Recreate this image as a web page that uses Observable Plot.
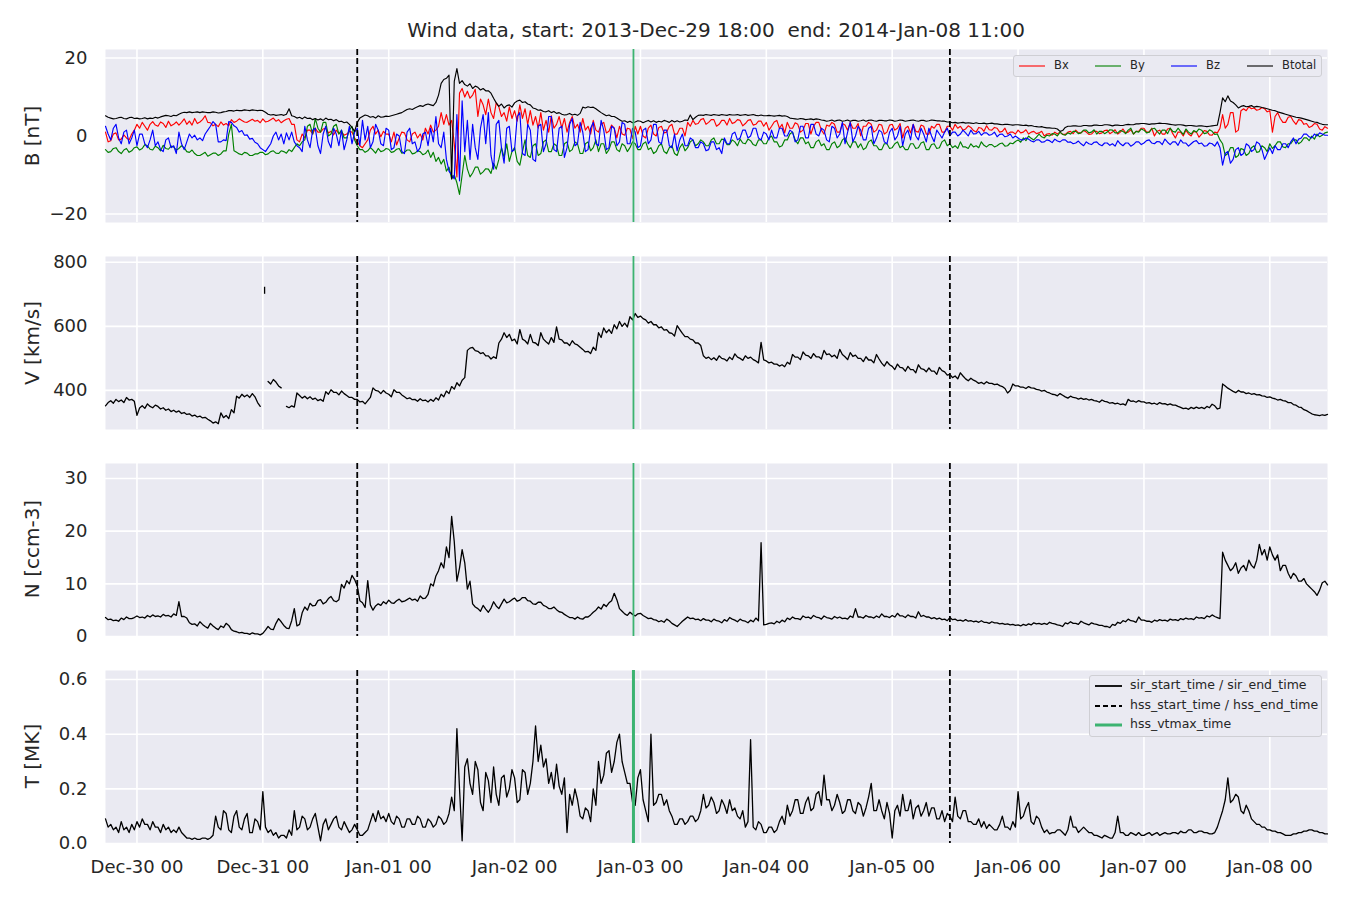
<!DOCTYPE html>
<html><head><meta charset="utf-8">
<script src="https://cdn.jsdelivr.net/npm/d3@7"></script>
<script src="https://cdn.jsdelivr.net/npm/@observablehq/plot@0.6"></script>
<style>
body{margin:0;background:#fff;}
#wrap{position:relative;width:1350px;height:900px;font-family:"DejaVu Sans",sans-serif;color:#262626;overflow:hidden;}
.panel{position:absolute;left:0;}
.ylab{position:absolute;left:32px;font-size:20px;white-space:nowrap;transform:translate(-50%,-50%) rotate(-90deg);}
#title{position:absolute;left:105px;width:1222px;top:18px;text-align:center;font-size:20px;white-space:pre;line-height:24px;}
.legend{position:absolute;background:#EAEAF2;border:1.3px solid #cfcfd4;border-radius:3px;box-sizing:border-box;}
.lg-item{position:absolute;white-space:nowrap;line-height:1;}
</style></head>
<body>
<div id="wrap">
  <div id="title">Wind data, start: 2013-Dec-29 18:00  end: 2014-Jan-08 11:00</div>
  <div class="panel" id="p1" style="top:39px"></div>
  <div class="panel" id="p2" style="top:246px"></div>
  <div class="panel" id="p3" style="top:453px"></div>
  <div class="panel" id="p4" style="top:660px"></div>
  <div class="ylab" style="top:136px">B [nT]</div>
  <div class="ylab" style="top:343px">V [km/s]</div>
  <div class="ylab" style="top:549px">N [ccm-3]</div>
  <div class="ylab" style="top:756px">T [MK]</div>
  <div class="legend" id="leg1" style="left:1013px;top:55px;width:309px;height:22px;"></div>
  <div class="legend" id="leg2" style="left:1089px;top:675px;width:233px;height:62px;"></div>
</div>
<script>
// ---- time frame: samples every 30 minutes, first sample at START ----
const START = "2013-12-29T18:00Z";
const END = "2014-01-08T11:00Z";
const STEP_MIN = 30;
const dayTicks = ["2013-12-30","2013-12-31","2014-01-01","2014-01-02","2014-01-03","2014-01-04","2014-01-05","2014-01-06","2014-01-07","2014-01-08"];
const hssTimes = ["2013-12-31T18:00Z", "2014-01-05T11:00Z"];
const vtmaxTimes = ["2014-01-02T22:40Z"];

// ---- magnetic field [nT] (one row per day) ----
const bx = [
  1.0,-1.5,-1.2,0.5,0.8,-1.0,-0.8,0.3,-0.5,-1.0,0.5,1.5,
  3.0,2.0,3.5,2.5,1.5,3.0,3.7,2.8,2.5,3.6,3.2,2.2,3.8,2.6,3.0,3.6,2.8,3.5,4.4,3.0,3.8,2.8,4.5,3.2,3.6,4.2,5.2,3.5,3.4,2.6,3.0,2.4,3.6,2.8,3.2,2.6,4.2,3.5,3.8,4.4,4.0,3.6,3.5,3.9,4.3,3.8,4.0,3.4,
  4.4,3.6,3.8,4.2,4.6,3.8,4.2,3.4,3.9,4.3,4.5,3.0,3.0,-1.0,-1.5,0.5,-0.5,1.5,1.5,0.5,2.0,1.0,1.0,1.8,2.0,0.8,1.2,0.3,1.5,0.6,1.0,0.2,0.5,1.2,1.0,-0.5,-1.5,-2.5,-3.0,-2.0,-1.0,1.5,2.5,0.5,1.5,-0.2,1.2,0.5,
  0.5,-1.5,1.0,-2.3,-0.5,1.0,0.8,-1.0,-1.5,0.5,1.0,-0.5,0.5,-1.0,2.0,0.5,2.8,1.0,1.5,2.5,6.0,3.0,5.5,2.8,4.0,-2.0,-10.5,11.0,12.2,10.0,11.5,9.7,10.5,12.0,5.0,9.5,8.0,5.5,9.5,6.0,4.5,8.5,7.5,5.0,6.0,3.8,7.5,4.5,
  6.5,3.8,8.0,4.5,7.0,3.0,6.5,2.8,5.0,2.0,6.0,1.5,4.0,1.0,5.2,2.0,3.0,5.0,2.0,4.5,1.0,3.5,5.0,2.0,3.0,1.0,4.5,1.5,2.5,0.5,4.0,1.5,1.0,3.0,3.5,0.8,1.2,2.8,2.0,-0.5,2.5,0.5,0.2,2.0,1.8,-0.6,2.5,0.5,
  2.5,0.0,-0.5,2.0,2.8,0.5,0.0,2.2,2.5,0.8,1.0,2.5,3.0,0.5,0.5,2.0,2.0,0.0,3.5,2.5,4.0,3.0,3.2,4.2,4.5,3.0,3.5,4.2,4.2,2.5,3.0,4.0,4.0,2.8,4.5,3.2,3.5,4.2,4.0,2.6,3.2,4.0,4.2,2.8,3.0,3.8,3.8,2.5,
  3.5,1.5,2.5,3.6,4.0,2.0,3.0,0.8,3.5,2.0,2.0,3.4,3.0,1.0,1.5,3.2,3.2,0.5,2.5,3.5,3.5,1.5,0.5,2.8,2.5,3.5,3.0,1.0,1.0,3.2,2.8,1.5,3.5,2.0,2.0,3.2,0.0,2.5,2.5,3.5,3.0,1.0,1.5,3.0,2.8,0.5,1.0,2.8,
  3.0,1.5,2.0,3.2,-0.5,2.0,2.5,0.8,3.0,1.2,1.0,2.8,2.5,0.5,0.5,2.5,2.0,3.0,3.0,1.0,1.0,2.5,2.5,1.5,3.0,2.0,2.5,1.5,1.8,2.6,2.2,1.4,1.0,2.2,2.0,1.2,2.6,1.6,1.5,2.2,2.0,1.0,1.2,2.0,0.5,1.0,1.0,0.5,
  1.5,0.8,1.0,1.6,0.5,1.0,1.2,0.6,0.8,1.2,0.0,0.5,0.6,0.2,1.0,0.5,1.0,0.4,0.4,1.0,1.2,0.6,1.5,0.8,0.8,1.4,1.0,0.4,0.5,1.2,1.2,0.6,0.8,1.4,1.5,0.6,1.0,1.6,0.5,1.0,1.8,0.8,1.0,1.6,0.5,1.2,1.2,2.0,
  2.0,1.0,1.0,2.0,0.0,1.2,1.5,0.5,0.5,1.8,2.0,0.6,-0.5,1.0,1.0,0.0,1.5,0.5,0.0,1.2,1.0,-0.3,0.5,1.4,1.2,0.3,0.2,1.0,0.8,2.0,5.5,2.0,3.0,6.0,6.0,1.0,1.5,6.5,7.0,6.5,7.5,7.0,7.2,6.6,6.8,7.3,7.0,6.2,
  6.5,1.0,5.0,6.0,4.5,3.5,3.5,4.8,5.0,3.8,3.0,4.2,4.0,3.0,3.2,2.2,2.5,3.2,3.0,1.8,1.5,2.4,2.0
];
const by = [
  -3.5,-4.2,-4.0,-3.2,-3.0,-4.0,-4.5,-3.6,-3.2,-4.2,-3.8,-3.0,
  -2.8,-3.6,-3.2,-2.2,-2.5,-3.4,-3.6,-2.6,-3.0,-3.8,-2.4,-3.2,-3.4,-2.6,-2.8,-3.6,-3.2,-2.5,-3.0,-4.0,-4.2,-3.6,-4.5,-5.0,-5.0,-4.6,-4.2,-5.2,-4.8,-4.4,-4.4,-5.0,-4.6,-3.8,-3.8,0.5,3.0,-3.8,-4.2,-4.6,-4.8,-4.2,-4.4,-5.0,-5.0,-4.6,-4.6,-4.2,
  -4.2,-4.8,-4.6,-4.0,-3.8,-4.4,-4.5,-3.8,-4.0,-4.4,-3.5,-4.0,-3.0,-2.0,-2.5,-1.5,-1.0,2.5,3.0,0.5,4.5,2.0,1.0,3.5,3.5,0.0,0.5,2.5,3.0,0.5,1.5,-0.5,-0.5,1.5,2.5,-1.0,-2.5,-3.5,-3.5,-4.2,-3.8,-3.0,-3.6,-4.4,-3.2,-4.0,-3.8,-3.2,
  -3.4,-4.2,-4.0,-3.4,-3.2,-4.4,-4.2,-3.6,-3.6,-4.6,-4.4,-3.8,-4.0,-4.8,-4.5,-3.6,-5.5,-4.2,-6.5,-5.5,-7.2,-6.0,-9.0,-8.0,-11.0,-10.0,-12.0,-15.0,-10.0,-5.0,-8.5,-10.5,-9.5,-8.0,-8.0,-9.8,-9.2,-8.4,-8.5,-9.6,-7.0,-8.5,-6.0,-3.0,-5.5,-2.0,-6.5,-4.0,
  -3.0,-6.5,-7.5,-4.0,-1.0,-5.0,-5.5,-2.5,-2.0,-5.0,-4.5,-1.5,-1.0,-4.0,-4.0,-2.0,-2.5,-5.0,-5.0,-2.0,-1.5,-4.0,-3.5,-1.5,-2.0,-4.5,-4.5,-2.0,-1.5,-3.8,-3.0,-1.0,-4.0,-2.0,-2.0,-4.5,-3.5,-1.5,-1.5,-3.5,-4.0,-2.0,-2.5,-4.0,-3.0,-1.5,-2.0,-3.5,
  -3.5,-2.0,-1.5,-3.5,-3.0,-4.5,-4.0,-2.5,-2.0,-4.0,-4.5,-3.0,-2.5,-4.5,-5.0,-3.0,-2.0,-3.8,-3.0,-1.5,-1.0,-2.5,-2.0,-1.0,-1.5,-2.5,-2.5,-1.0,-0.5,-2.0,-2.0,-0.8,-1.0,-2.2,-2.2,-1.0,-1.5,-2.5,-0.8,-1.8,-2.0,-0.8,-1.2,-2.2,-2.5,-1.0,-1.0,-2.0,
  -2.0,-0.5,0.0,-1.5,-1.5,-2.8,-2.5,-1.0,-1.0,0.5,1.0,-1.0,-2.0,-0.5,-0.5,-2.0,-1.5,-3.0,-3.0,-1.5,-1.0,-2.5,-2.0,-3.5,-3.5,-2.0,-1.5,-3.0,-2.5,-1.0,-0.5,-2.0,-3.0,-1.5,-1.5,-3.0,-2.0,-3.5,-3.0,-1.5,-1.0,-2.5,-2.5,-3.5,-3.5,-2.0,-2.0,-3.2,
  -3.0,-2.0,-1.5,-3.0,-2.5,-3.5,-3.5,-2.0,-2.0,-3.2,-3.0,-1.8,-1.5,-3.5,-3.5,-2.2,-2.0,-3.2,-3.0,-1.5,-1.0,-2.5,-2.0,-3.0,-2.5,-3.2,-1.5,-2.8,-2.8,-3.2,-2.0,-2.8,-2.5,-3.0,-1.5,-2.4,-2.8,-2.2,-2.2,-2.8,-2.5,-2.0,-1.8,-2.6,-2.5,-1.8,-2.0,-1.4,
  -1.0,-1.6,-0.5,-1.2,0.0,-0.6,-1.0,-0.3,0.5,-0.2,-0.5,0.2,0.0,0.6,0.5,0.0,1.0,0.4,0.2,0.8,0.5,1.2,1.2,0.6,0.8,1.5,1.5,0.8,1.0,1.6,0.5,1.2,1.2,0.6,1.0,1.6,1.5,0.8,0.8,1.4,1.2,0.6,1.5,2.0,0.5,1.2,1.0,1.8,
  1.5,0.8,1.0,1.8,2.0,1.2,0.5,1.5,1.5,0.6,2.0,1.2,1.0,2.0,1.2,0.4,1.8,1.0,0.5,1.4,1.0,1.8,1.5,0.6,0.8,1.6,1.2,0.4,0.5,-1.0,-2.0,-5.0,-4.5,-3.0,-3.0,-5.5,-5.0,-3.2,-3.5,-5.0,-4.5,-3.0,-2.5,-4.2,-4.0,-2.5,-3.0,-4.0,
  -2.0,-3.2,-2.5,-1.5,-1.5,-2.8,-3.0,-2.0,-2.0,-1.0,-1.0,-2.0,-1.5,-0.5,-0.5,-1.2,0.0,-0.8,0.5,-0.2,0.2,0.8,1.0
];
const bz = [
  2.5,0.5,-1.0,2.0,3.0,-0.5,-2.0,1.0,1.5,-2.0,-0.5,1.5,
  -2.5,0.5,0.5,-2.0,-3.0,-1.0,1.5,-2.5,-1.5,-3.5,-4.0,-1.0,-0.5,-3.0,-2.5,-4.5,1.0,-2.0,-3.5,-1.5,0.5,-0.5,0.2,-1.0,-0.5,-1.2,0.5,1.5,2.5,3.7,3.0,-1.5,-1.5,-1.0,-1.2,3.7,3.5,2.6,2.2,1.0,1.4,0.2,0.3,-0.8,-0.6,-1.6,-2.0,-3.0,
  -3.5,-4.0,-3.0,-2.0,0.0,1.0,-1.0,0.5,-2.0,0.8,-1.0,1.0,-1.5,-2.5,-3.0,-4.0,2.5,-1.0,-3.0,1.5,2.0,-2.5,-4.5,0.5,2.5,-1.5,-3.0,2.0,0.5,-2.5,1.5,-3.5,-1.0,2.5,-2.0,1.0,2.0,-2.5,4.0,-1.0,2.5,-3.0,-1.5,3.0,1.5,-2.0,-2.5,2.0,
  1.5,-3.5,-3.0,0.5,0.0,-4.0,-4.5,1.0,2.0,-2.0,-1.5,-4.0,-3.0,0.5,1.0,-2.5,2.0,-1.5,5.0,-2.0,-3.0,1.0,-6.0,-9.0,-10.0,-11.0,5.5,-11.5,9.0,-4.0,4.0,-6.0,3.0,-3.0,-6.0,2.0,5.5,-2.0,6.0,-5.0,-8.5,3.0,4.0,-3.0,-7.0,2.0,2.5,-4.0,
  -3.5,5.0,6.0,-4.5,-5.0,3.0,1.5,-6.0,-6.5,2.5,3.0,-4.0,-2.0,5.0,5.0,-3.5,-4.0,2.0,2.5,-5.5,-3.0,3.0,4.5,-2.5,-2.0,3.5,1.0,-4.0,-3.5,2.0,3.5,-2.0,-2.5,4.0,1.5,-3.5,-3.0,2.5,2.0,-2.5,-1.5,3.5,3.0,-2.0,-2.0,2.0,1.0,-3.0,
  -2.5,1.5,2.0,-2.0,-1.0,3.0,3.0,-1.5,-2.0,1.5,1.5,-2.5,-3.0,0.5,-3.8,-1.0,0.5,-2.5,-2.5,-0.5,-1.0,-3.0,-3.0,-1.5,-2.0,-3.8,-3.5,-1.5,-1.5,-3.5,-3.0,-4.5,-0.5,-2.0,-2.0,0.5,1.0,-1.0,-0.5,1.5,1.5,-0.5,0.0,2.0,2.0,-0.5,-1.0,1.0,
  0.5,-1.0,1.5,-0.5,-0.5,2.0,2.0,0.0,0.0,1.5,1.0,-1.5,-1.0,2.5,2.5,-0.5,-0.5,3.0,3.0,0.5,0.0,2.0,1.5,-1.0,-1.5,2.5,2.0,-0.5,0.5,3.5,-2.0,1.0,3.5,-1.5,0.0,2.5,1.5,-1.0,-1.0,2.0,2.5,-2.0,-0.5,1.5,1.0,-1.5,-2.0,1.0,
  2.0,-1.0,0.0,2.5,-2.5,0.5,1.5,-1.0,3.0,0.0,-1.0,2.0,0.5,-1.5,2.0,0.0,-1.5,1.5,0.5,-0.5,1.0,2.0,0.0,1.0,1.0,0.0,0.5,1.5,0.8,0.0,1.5,0.5,0.6,1.2,0.2,0.8,0.8,0.2,0.4,1.0,-0.2,0.4,0.5,-0.2,0.0,0.5,-0.5,0.0,
  -0.5,-1.0,-1.0,-0.5,-0.8,-1.3,-1.5,-1.0,-1.0,-1.6,-1.5,-1.0,-1.2,-1.7,-0.8,-1.3,-1.5,-1.0,-1.0,-1.6,-1.5,-2.0,-1.8,-1.3,-2.0,-2.5,-1.5,-2.0,-2.2,-1.6,-1.5,-2.2,-2.5,-1.8,-1.8,-2.4,-2.0,-2.6,-1.2,-2.0,-2.5,-1.8,-1.8,-2.6,-2.2,-1.5,-1.5,-2.2,
  -1.8,-1.2,-1.0,-1.8,-2.0,-1.4,-1.5,-2.2,-0.8,-1.6,-2.2,-1.5,-1.5,-2.4,-1.0,-1.8,-1.8,-2.6,-2.0,-1.4,-1.2,-2.0,-1.8,-2.6,-2.5,-1.8,-2.0,-2.6,-1.5,-3.0,-7.5,-4.5,-4.0,-7.0,-6.0,-3.5,-3.0,-5.0,-4.5,-2.0,-2.5,-4.0,-3.5,-1.5,-2.0,-3.5,-6.0,-4.5,
  -3.0,-4.5,-2.5,-3.5,-3.5,-2.0,-2.0,-3.0,-1.5,-0.5,-2.0,-0.8,-0.5,0.5,0.5,-0.2,-0.5,0.5,0.0,0.8,0.5,0.2,0.2
];
const btotal = [
  5.2,4.8,4.6,4.4,4.5,4.7,4.8,4.5,4.4,4.7,4.8,4.5,
  4.6,4.4,4.5,4.7,4.4,4.6,4.5,4.8,4.6,4.9,5.1,5.3,5.2,5.0,5.3,5.2,5.6,5.9,6.1,6.0,6.2,6.0,6.1,6.2,6.0,6.2,6.1,6.0,6.0,6.2,6.1,5.9,6.0,6.2,6.3,6.5,6.5,6.4,6.6,6.5,6.5,6.7,6.6,6.5,6.7,6.6,6.5,6.6,
  6.5,6.1,5.6,5.4,5.5,5.3,5.4,5.5,5.3,5.6,7.0,5.2,5.0,4.6,4.8,4.4,4.9,4.5,4.6,4.2,4.5,4.1,4.4,4.0,4.6,4.2,4.3,3.9,4.2,3.7,3.8,3.4,3.6,3.0,2.2,1.2,3.5,4.6,5.0,5.4,5.2,4.8,5.0,4.6,5.2,4.8,4.9,5.1,
  5.0,5.2,5.4,5.6,5.8,6.0,6.4,6.8,7.0,6.8,7.2,7.5,7.8,7.6,8.0,8.2,8.0,7.8,8.6,10.5,13.5,14.5,14.8,15.6,-11.0,14.0,17.3,13.5,14.2,13.2,12.8,13.4,12.2,12.8,12.5,11.8,12.2,11.6,11.6,11.0,9.7,8.5,7.6,8.2,7.2,7.8,8.0,7.4,
  8.5,9.0,9.2,8.6,8.8,8.2,8.0,7.2,7.0,6.6,6.7,6.3,6.2,6.5,6.0,6.3,5.8,6.0,5.6,5.4,5.5,5.8,5.4,5.6,5.3,5.8,7.4,7.2,7.5,7.3,7.4,7.0,6.5,6.0,5.6,5.2,5.4,5.0,5.0,4.6,4.2,3.8,3.9,3.5,3.8,3.4,3.6,3.9,
  3.8,3.4,3.7,4.0,3.6,3.9,3.5,3.8,3.6,4.0,3.8,3.5,4.0,3.6,3.9,3.6,3.8,4.1,4.0,5.4,4.2,4.8,5.3,5.4,5.3,5.5,5.4,5.3,5.5,5.4,5.3,5.5,5.4,5.3,5.5,5.4,5.4,5.5,5.3,5.4,5.5,5.3,5.4,5.5,5.3,5.2,5.4,5.2,
  5.2,5.3,5.2,5.1,5.2,5.3,5.1,5.2,5.0,4.6,4.5,4.4,4.3,4.5,4.4,4.2,4.3,4.4,4.2,4.4,4.3,4.1,4.0,3.8,3.9,4.1,3.8,4.0,4.1,3.8,3.9,4.1,3.8,4.0,4.0,3.8,3.9,4.1,3.8,4.0,4.1,3.9,3.8,4.0,4.0,3.9,3.9,4.1,
  4.0,3.8,3.9,4.1,4.0,3.8,3.9,4.0,4.1,3.9,3.8,4.0,4.0,3.8,3.9,4.1,4.0,3.9,3.9,3.8,3.8,3.6,3.6,3.4,3.5,3.3,3.4,3.5,3.3,3.4,3.3,3.2,3.4,3.2,3.2,3.3,3.1,3.2,3.3,3.1,3.1,3.0,2.9,3.0,3.0,2.9,2.8,2.9,
  2.9,2.8,2.7,2.8,2.6,2.7,2.5,2.4,2.3,2.4,2.2,2.1,2.1,2.0,2.0,1.8,1.2,1.4,2.2,2.5,2.5,2.6,2.6,2.5,2.5,2.7,2.7,2.6,2.6,2.8,2.8,2.7,2.7,2.9,2.9,2.8,2.6,2.8,2.8,2.7,2.7,2.9,3.0,2.9,2.9,3.1,3.1,3.2,
  3.2,3.1,3.0,3.1,3.1,3.2,3.3,3.2,3.2,3.1,3.0,2.9,2.8,2.9,2.9,2.8,2.6,2.7,2.7,2.6,2.5,2.6,2.6,2.5,2.4,2.5,2.6,2.7,2.8,6.0,9.8,8.8,10.3,9.0,8.6,8.0,7.2,7.6,7.8,7.5,7.6,7.8,7.4,7.6,7.5,7.3,7.2,7.0,
  6.8,6.6,6.5,6.2,6.0,5.8,5.6,5.4,5.2,5.0,4.8,4.7,4.6,4.4,4.2,4.0,3.8,3.6,3.5,3.2,3.0,2.9,2.9
];

// ---- solar wind speed [km/s] (null = data gap) ----
const speed = [
  352,362,368,360,372,365,370,362,378,370,372,366,
  322,345,352,344,358,350,346,354,350,342,346,338,342,334,338,332,336,328,331,325,327,320,323,317,320,314,316,310,305,298,302,296,330,315,322,312,340,330,382,376,388,380,386,378,390,380,362,350,
  null,null,428,420,434,426,414,408,null,350,346,352,348,392,384,376,382,374,380,372,376,368,372,366,396,388,402,394,394,386,398,390,384,378,378,372,372,364,366,358,368,378,408,400,398,390,400,392,
  388,380,402,394,394,386,380,374,377,371,372,366,374,368,370,364,372,366,377,370,388,380,398,390,412,404,424,414,432,440,525,532,534,524,522,515,518,508,508,498,505,500,548,560,580,565,575,555,
  560,545,590,560,555,545,575,550,548,540,580,560,552,545,565,550,598,560,558,548,548,540,555,545,542,535,528,520,522,515,535,525,580,565,595,580,590,578,605,592,615,600,610,598,630,620,640,628,
  632,624,620,610,615,605,605,595,598,588,590,580,578,570,602,590,578,568,568,560,558,548,548,540,508,500,504,496,502,494,508,500,498,492,504,496,514,504,500,494,508,500,504,496,492,486,550,495,
  492,486,488,482,482,476,480,474,488,482,512,504,504,496,520,510,508,500,515,505,505,498,525,512,514,505,510,500,528,512,505,496,518,506,510,500,500,490,505,495,495,486,512,498,485,476,490,480,
  475,465,482,472,470,460,475,465,465,455,480,468,466,458,470,460,460,450,472,462,458,448,450,440,445,436,455,445,436,430,438,432,428,422,425,420,427,422,422,418,420,415,412,406,392,400,420,414,
  414,410,410,406,412,408,407,403,402,398,400,395,392,388,387,383,390,385,380,376,382,378,377,373,376,372,374,370,372,368,367,363,370,366,364,360,362,358,360,356,358,354,372,366,367,363,368,364,
  364,360,362,358,360,356,362,358,359,355,358,354,354,350,347,343,345,341,347,343,348,344,347,343,350,346,357,352,342,345,420,414,407,402,397,393,400,395,395,390,392,388,390,386,387,383,382,378,
  380,376,374,370,372,368,367,362,362,356,354,348,347,340,337,332,327,324,323,321,324,322,325
];
const speedGlitch = [{time: "2013-12-31T00:20Z", lo: 700, hi: 722}];

// ---- proton density [cm^-3] ----
const density = [
  3.6,3.2,3.3,3.0,3.1,2.9,3.5,3.2,3.7,3.4,3.4,3.6,
  3.9,3.6,3.7,3.5,4.0,3.7,4.1,3.8,3.9,3.7,4.2,3.9,4.0,3.7,4.3,4.0,6.6,3.8,3.8,3.5,2.6,2.3,2.4,2.0,2.8,2.3,1.9,1.6,2.5,2.0,1.6,1.3,2.0,1.7,2.5,2.1,1.3,1.0,0.9,0.7,0.8,0.6,0.6,0.4,0.7,0.5,0.5,0.3,
  0.6,1.2,1.9,1.4,1.3,2.5,3.4,2.8,2.1,1.6,1.5,3.0,5.3,2.0,2.3,4.5,5.6,5.0,6.3,5.8,5.9,6.8,7.0,6.2,6.5,7.2,7.6,6.8,6.6,7.0,9.9,9.2,10.6,10.0,11.6,10.8,9.6,6.8,6.4,5.5,10.6,6.0,5.0,5.8,6.2,5.9,6.6,6.2,
  6.9,6.4,6.3,6.8,7.1,6.6,6.7,7.0,7.3,6.9,7.1,6.7,7.7,7.2,7.3,8.0,10.0,9.6,11.5,12.5,14.0,13.0,17.0,15.0,22.8,18.0,10.5,13.0,16.5,14.0,9.0,10.5,6.2,5.6,5.3,4.8,5.9,5.2,4.6,5.4,6.6,5.8,5.3,6.2,7.1,6.4,6.6,7.0,
  7.3,6.7,6.9,7.4,7.4,6.8,6.7,6.2,6.1,6.5,6.5,5.9,5.7,5.3,5.3,5.6,5.1,4.7,4.6,4.2,3.9,3.6,3.6,3.3,3.7,3.4,3.3,3.7,3.7,4.1,4.6,5.0,5.6,5.2,6.1,5.7,6.4,6.8,8.2,7.0,5.3,4.8,4.3,4.0,4.6,4.2,3.9,4.3,
  4.4,4.0,3.7,3.4,3.5,3.2,3.1,2.8,3.0,2.7,3.3,3.0,2.5,2.2,1.9,2.4,2.9,3.3,3.7,3.4,3.5,3.2,3.3,3.0,3.4,3.1,3.1,2.8,3.3,3.0,2.9,2.6,3.2,2.9,3.6,3.3,3.1,2.8,3.3,3.0,2.9,2.6,3.1,2.8,3.5,3.0,17.8,2.2,
  2.3,2.5,2.6,2.4,2.9,2.6,3.1,2.8,3.5,3.2,3.7,3.4,3.4,3.2,3.9,3.6,3.7,3.4,4.0,3.7,3.6,3.3,3.9,3.6,3.5,3.3,3.8,3.5,3.7,3.4,3.5,3.3,3.9,3.6,5.3,3.7,3.7,3.5,4.0,3.7,3.7,3.5,3.9,3.6,4.3,3.8,3.8,3.6,
  4.0,3.7,4.4,3.9,3.9,3.6,4.1,3.8,3.8,3.5,4.7,3.8,4.0,3.7,3.7,3.4,3.6,3.3,3.5,3.2,3.3,3.0,3.6,3.2,3.3,3.0,3.1,2.9,3.2,2.9,3.0,2.8,2.9,2.7,3.0,2.7,2.7,2.5,2.8,2.6,2.6,2.4,2.5,2.3,2.4,2.2,2.3,2.1,
  2.2,2.0,2.3,2.1,2.4,2.2,2.6,2.4,2.5,2.3,2.5,2.3,2.7,2.5,2.4,2.2,2.1,1.9,2.6,2.4,2.8,2.5,2.5,2.3,2.9,2.6,2.4,2.2,2.6,2.4,2.3,2.1,2.1,1.9,1.9,1.7,2.3,2.1,2.7,2.5,3.0,2.8,3.3,3.0,2.9,2.7,3.7,3.1,
  3.1,2.9,2.9,2.7,3.1,2.9,3.2,3.0,3.1,2.9,3.3,3.1,3.2,3.0,3.4,3.2,3.5,3.3,3.4,3.2,3.7,3.5,3.6,3.4,3.9,3.7,4.1,3.8,3.6,3.4,16.0,14.5,13.5,12.5,13.0,14.0,12.0,13.0,13.5,12.5,14.5,13.5,13.0,14.5,17.5,15.5,16.5,14.5,
  17.0,15.5,14.5,15.5,12.5,13.5,13.5,12.0,11.0,12.0,11.5,10.5,10.5,11.0,10.0,9.5,9.0,8.5,7.8,8.8,10.2,10.5,9.8
];

// ---- proton temperature [MK] ----
const temperature = [
  0.09,0.06,0.07,0.05,0.06,0.04,0.08,0.05,0.06,0.04,0.07,0.05,
  0.08,0.06,0.09,0.07,0.07,0.05,0.08,0.06,0.06,0.04,0.07,0.05,0.06,0.04,0.05,0.04,0.06,0.04,0.03,0.02,0.02,0.015,0.02,0.015,0.015,0.02,0.02,0.015,0.02,0.03,0.10,0.06,0.05,0.12,0.11,0.05,0.04,0.10,0.12,0.06,0.05,0.09,0.11,0.04,0.04,0.09,0.08,0.05,
  0.19,0.06,0.04,0.05,0.03,0.04,0.02,0.03,0.03,0.02,0.05,0.03,0.12,0.05,0.06,0.10,0.09,0.05,0.06,0.09,0.11,0.06,0.01,0.07,0.09,0.05,0.07,0.09,0.10,0.06,0.05,0.08,0.06,0.04,0.05,0.07,0.05,0.03,0.03,0.04,0.05,0.08,0.11,0.08,0.12,0.09,0.10,0.08,
  0.11,0.08,0.07,0.10,0.09,0.06,0.06,0.09,0.09,0.07,0.07,0.10,0.09,0.06,0.06,0.09,0.08,0.06,0.07,0.10,0.09,0.07,0.08,0.11,0.17,0.12,0.42,0.20,0.01,0.28,0.31,0.22,0.18,0.30,0.27,0.15,0.12,0.26,0.23,0.15,0.28,0.18,0.14,0.24,0.25,0.17,0.20,0.27,
  0.24,0.15,0.16,0.27,0.26,0.18,0.22,0.30,0.43,0.30,0.36,0.28,0.31,0.22,0.26,0.20,0.29,0.21,0.18,0.24,0.04,0.18,0.14,0.20,0.16,0.10,0.09,0.13,0.12,0.08,0.20,0.14,0.30,0.22,0.25,0.33,0.34,0.26,0.30,0.37,0.40,0.30,0.26,0.22,0.22,0.15,0.14,0.24,
  0.27,0.16,0.12,0.08,0.40,0.14,0.15,0.18,0.18,0.14,0.16,0.12,0.10,0.07,0.07,0.09,0.09,0.07,0.08,0.10,0.10,0.08,0.09,0.12,0.18,0.13,0.14,0.17,0.15,0.11,0.12,0.16,0.14,0.11,0.16,0.12,0.13,0.10,0.09,0.12,0.06,0.08,0.38,0.06,0.05,0.08,0.07,0.04,
  0.04,0.06,0.06,0.04,0.05,0.08,0.10,0.07,0.14,0.10,0.12,0.16,0.16,0.11,0.11,0.15,0.17,0.12,0.13,0.18,0.19,0.14,0.25,0.16,0.16,0.12,0.14,0.18,0.15,0.11,0.12,0.16,0.16,0.12,0.11,0.15,0.14,0.10,0.13,0.17,0.22,0.12,0.12,0.16,0.12,0.09,0.15,0.11,
  0.02,0.12,0.14,0.10,0.18,0.12,0.12,0.16,0.09,0.13,0.14,0.10,0.12,0.15,0.10,0.13,0.13,0.09,0.09,0.12,0.08,0.11,0.10,0.08,0.17,0.10,0.09,0.12,0.12,0.08,0.08,0.07,0.07,0.09,0.06,0.08,0.055,0.07,0.06,0.05,0.05,0.07,0.10,0.06,0.06,0.05,0.08,0.06,
  0.19,0.09,0.10,0.13,0.15,0.08,0.07,0.10,0.09,0.06,0.04,0.05,0.035,0.04,0.04,0.05,0.05,0.04,0.03,0.05,0.10,0.06,0.06,0.04,0.05,0.06,0.05,0.04,0.04,0.03,0.03,0.025,0.02,0.03,0.025,0.02,0.02,0.04,0.10,0.04,0.04,0.03,0.03,0.04,0.035,0.03,0.04,0.03,
  0.03,0.035,0.04,0.03,0.035,0.04,0.03,0.035,0.04,0.035,0.035,0.04,0.04,0.035,0.045,0.04,0.04,0.05,0.05,0.04,0.04,0.045,0.045,0.04,0.04,0.035,0.035,0.04,0.06,0.09,0.12,0.16,0.24,0.15,0.16,0.18,0.17,0.12,0.11,0.14,0.12,0.09,0.08,0.07,0.07,0.06,0.06,0.05,
  0.05,0.045,0.045,0.04,0.04,0.035,0.03,0.03,0.03,0.035,0.035,0.04,0.04,0.045,0.045,0.05,0.05,0.045,0.045,0.04,0.04,0.035,0.035
];

// ---- axis ticks ----
const bTicks = [-20, 0, 20];
const vTicks = [400, 600, 800];
const nTicks = [0, 10, 20, 30];
const tTicks = [0, 0.2, 0.4, 0.6];

// ---- legends ----
const bLegend = [
  {label: "Bx", color: "red"}, {label: "By", color: "green"},
  {label: "Bz", color: "blue"}, {label: "Btotal", color: "black"}
];
const eventLegend = [
  {label: "sir_start_time / sir_end_time", color: "black", dash: null, width: 1.8},
  {label: "hss_start_time / hss_end_time", color: "black", dash: "5,3", width: 1.8},
  {label: "hss_vtmax_time", color: "#3CB371", dash: null, width: 3}
];

// ---------------- build ----------------
const t0 = new Date(START).getTime();
const STEP = STEP_MIN * 60e3;
const series = arr => arr.map((v, i) => ({t: new Date(t0 + i * STEP), v}));
const ticksX = dayTicks.map(d => new Date(d + "T00:00Z"));
const hss = hssTimes.map(d => new Date(d));
const vtmax = vtmaxTimes.map(d => new Date(d));
const fmtDay = d3.utcFormat("%b-%d %H");
const PLOT_H = 173;

function panel(id, {lines, extra = [], yDomain, yTicks, yFormat, greenWidth, last, lineWidth}) {
  const mt = 10, mb = last ? 50 : 10;
  const marks = [
    Plot.frame({fill: "#EAEAF2", stroke: null}),
    Plot.gridX(ticksX, {stroke: "white", strokeOpacity: 1, strokeWidth: 1.6}),
    Plot.gridY(yTicks, {stroke: "white", strokeOpacity: 1, strokeWidth: 1.6}),
    ...lines.map(([arr, color]) => Plot.line(series(arr), {x: "t", y: "v", stroke: color, strokeWidth: lineWidth})),
    ...extra,
    Plot.ruleX(hss, {stroke: "black", strokeWidth: 1.8, strokeDasharray: "6,3"}),
    Plot.ruleX(vtmax, {stroke: "#3CB371", strokeWidth: greenWidth}),
    Plot.axisY(yTicks, {tickSize: 0, tickPadding: 18, tickFormat: yFormat, label: null, fontSize: 18})
  ];
  if (last) marks.push(Plot.axisX(ticksX, {tickSize: 0, tickPadding: 17, tickFormat: fmtDay, label: null, fontSize: 18}));
  const chart = Plot.plot({
    width: 1350, height: PLOT_H + mt + mb,
    marginLeft: 105, marginRight: 23, marginTop: mt, marginBottom: mb,
    style: {fontFamily: "DejaVu Sans", fontSize: "18px", color: "#262626", background: "transparent", overflow: "visible"},
    x: {type: "utc", domain: [new Date(START), new Date(END)], axis: last ? undefined : null},
    y: {domain: yDomain},
    marks
  });
  document.getElementById(id).appendChild(chart);
}

panel("p1", {
  lines: [[bx, "red"], [by, "green"], [bz, "blue"], [btotal, "black"]], lineWidth: 1.15,
  yDomain: [-22.2, 22.2], yTicks: bTicks, yFormat: d => d3.format("d")(d).replace("-", "\u2212"), greenWidth: 1.8
});
panel("p2", {
  lines: [[speed, "black"]], lineWidth: 1.3,
  extra: [Plot.ruleX(speedGlitch, {x: d => new Date(d.time), y1: "lo", y2: "hi", stroke: "black", strokeWidth: 1.3})],
  yDomain: [278, 818], yTicks: vTicks, yFormat: d3.format("d"), greenWidth: 1.8
});
panel("p3", {
  lines: [[density, "black"]], lineWidth: 1.3,
  yDomain: [0, 32.85], yTicks: nTicks, yFormat: d3.format("d"), greenWidth: 1.8
});
panel("p4", {
  lines: [[temperature, "black"]], lineWidth: 1.3,
  yDomain: [0, 0.633], yTicks: tTicks, yFormat: d3.format(".1f"), greenWidth: 3, last: true
});

// legends (HTML)
function lineSample(parent, x, y, len, color, width, dash) {
  const svg = document.createElementNS("http://www.w3.org/2000/svg", "svg");
  svg.setAttribute("width", len); svg.setAttribute("height", 8);
  svg.style.position = "absolute"; svg.style.left = x + "px"; svg.style.top = (y - 4) + "px";
  const l = document.createElementNS("http://www.w3.org/2000/svg", "line");
  l.setAttribute("x1", 0); l.setAttribute("x2", len); l.setAttribute("y1", 4); l.setAttribute("y2", 4);
  l.setAttribute("stroke", color); l.setAttribute("stroke-width", width);
  if (dash) l.setAttribute("stroke-dasharray", dash);
  svg.appendChild(l); parent.appendChild(svg);
}
const leg1 = document.getElementById("leg1");
bLegend.forEach((d, i) => {
  const x0 = 5 + i * 76;
  lineSample(leg1, x0, 10, 26, d.color, 1.1, null);
  const s = document.createElement("div");
  s.className = "lg-item"; s.textContent = d.label;
  s.style.left = (x0 + 35) + "px"; s.style.top = "4px"; s.style.fontSize = "11.5px";
  leg1.appendChild(s);
});
const leg2 = document.getElementById("leg2");
eventLegend.forEach((d, i) => {
  const y = 10 + i * 19.5;
  lineSample(leg2, 5, y, 27, d.color, d.width, d.dash);
  const s = document.createElement("div");
  s.className = "lg-item"; s.textContent = d.label;
  s.style.left = "40px"; s.style.top = (y - 7) + "px"; s.style.fontSize = "12.5px";
  leg2.appendChild(s);
});
</script>
</body></html>
